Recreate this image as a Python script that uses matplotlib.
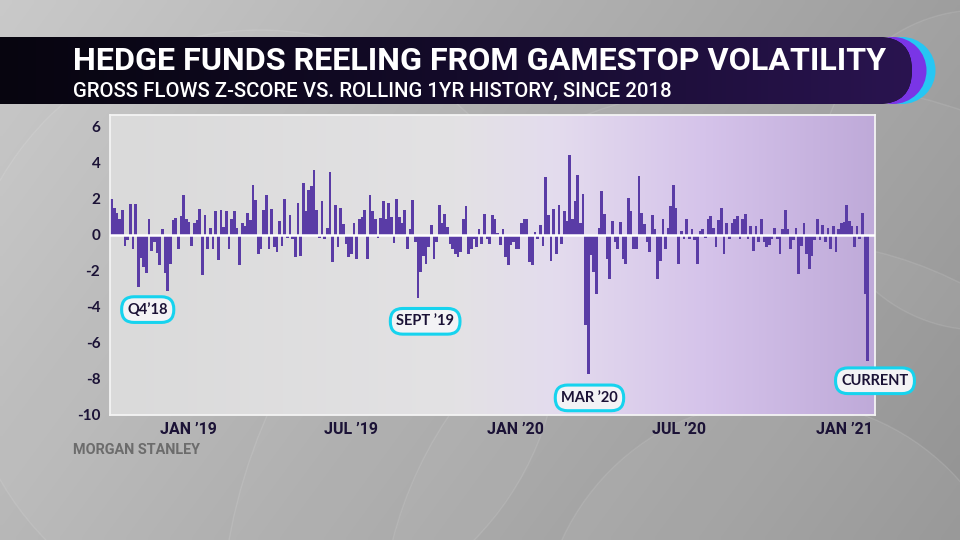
import numpy as np
import pandas as pd
import matplotlib
matplotlib.use("Agg")
import matplotlib.pyplot as plt
import matplotlib.dates as mdates
from matplotlib.patches import Circle, FancyBboxPatch
from matplotlib.colors import LinearSegmentedColormap
from matplotlib.ticker import FuncFormatter, FixedLocator

# ---------------- data ----------------
TITLE = "HEDGE FUNDS REELING FROM GAMESTOP VOLATILITY"
SUBTITLE = "GROSS FLOWS Z-SCORE VS. ROLLING 1YR HISTORY, SINCE 2018"
SOURCE = "MORGAN STANLEY"

START_DATE = "2018-10-08"
END_DATE = "2021-01-27"

z_oct18_dec18 = [2.0, 1.5, 1.2, 0.9, 1.4, -0.6, -0.3, 1.7, -0.8, 1.7, -2.9, -1.3, -1.8, -2.1,
                 0.9, -0.9, -0.4, -1.0, -1.7, 0.3, -2.1, -3.1, -1.6, 0.8, 0.95, -0.8, 1.05,
                 2.2, 0.9, 0.7, -0.6, 0.65, 0.8, 1.45, -2.25, 1.1, -0.8, 0.4, -0.8, 1.3, -1.4,
                 1.37, 0.45, 1.3, -0.8, 0.9, 1.3]
z_feb19_jul19 = [0.4, -1.7, 0.68, 0.5, 1.23, 0.8, 2.78, 1.96, -1.06, -0.8, 1.4, 2.23, -0.8,
                 1.45, -0.7, -0.97, 0.77, -0.6, 2.0, -0.2, 1.08, -0.24, -1.25, 1.78, -1.19,
                 2.88, 1.32, 2.5, 2.7, 3.57, 1.4, -0.2, 1.87, -0.24, 0.4, 3.5, -1.52, 1.68,
                 -0.7, 1.5, 0.6, -0.5, -1.25, -1.06, 0.68, -1.34, 0.86]
z_jul19_dec19 = [1.0, 1.4, -1.34, 2.23, 1.3, 0.86, -0.2, 0.95, 1.9, 0.86, 1.78, 1.0, -0.45,
                 2.0, 1.0, 0.68, 1.37, -0.79, 0.31, 1.96, -0.42, -3.53, -2.07, -1.15, -1.6,
                 -0.7, 0.53, -1.34, -0.42, 1.68, 0.68, 1.13, 0.45, -0.5, -0.8, -1.06, -1.25,
                 -0.97, 0.86, 1.6, -1.06, -0.79, -0.24, -0.7, 0.31, -0.5, 1.13]
z_dec19_may20 = [-0.24, -0.5, 1.1, 0.86, 0.1, -0.55, 0.3, -1.25, -1.7, -0.55, -0.42, -0.8,
                 -0.8, 0.68, 0.86, 0.9, -1.52, -1.7, 0.13, -0.24, 0.55, -0.6, 3.2, 1.1, -1.43,
                 1.46, -1.06, 1.68, -0.5, 1.32, 0.77, 4.43, 0.9, 1.87, 3.33, 0.68, 2.29, -5.0,
                 -7.75, -1.1, -2.07, -3.26, 0.4, 2.42, 1.13, -1.34, -2.44]
z_may20_sep20 = [0.77, -0.4, -0.79, 0.72, -1.34, -1.6, 2.05, 1.32, -0.79, -0.79, 3.28, 1.19,
                 0.6, -0.4, -0.97, 1.1, 0.35, -2.44, -1.43, 0.86, -0.8, 0.4, 1.6, 2.78, 1.5,
                 -1.6, 0.2, -0.24, 0.86, -0.24, 0.31, -0.3, -1.6, 0.22, 0.31, -0.2, 0.86, 1.04,
                 0.4, -0.7, 0.8, 1.5, -1.06, 0.68, -0.24, 0.68, 0.86]
z_oct20_jan21 = [1.04, -0.24, 0.9, 1.13, -0.24, 0.5, -0.88, 0.5, -0.42, 0.86, -0.42, -0.7,
                 -0.55, -0.24, 0.4, -0.24, -1.06, 0.31, 1.35, 0.35, -0.79, -0.3, 0.4, -2.16,
                 -0.6, 0.68, -1.06, -1.89, -1.15, -0.3, 0.86, -0.3, 0.53, -0.42, 0.4, -0.79,
                 0.5, -0.97, 0.31, 0.68, 0.7, 1.63, 0.77, 0.5, -0.7, 0.5, -0.24, 1.23, -3.3,
                 -7.0]

zscores = (z_oct18_dec18 + z_feb19_jul19 + z_jul19_dec19 + z_dec19_may20
           + z_may20_sep20 + z_oct20_jan21)
dates = pd.date_range(START_DATE, END_DATE, periods=len(zscores))

y_ticks = [6, 4, 2, 0, -2, -4, -6, -8, -10]

callout_labels = ["Q4\u201918", "SEPT \u201919", "MAR \u201920", "CURRENT"]
# label anchor positions (layout only)
callout_x = ["2018-11-17", "2019-09-22", "2020-03-23", "2021-02-04"]
callout_y = [-4.15, -4.8, -9.05, -8.1]

# ---------------- style ----------------
NAVY = "#1b1236"
BAR = "#5a3ca6"
CYAN = "#16d3ee"
SANS = ["Roboto", "DejaVu Sans"]
ROUND = ["Lato", "DejaVu Sans"]

fig = plt.figure(figsize=(9.6, 5.4), dpi=100)

# background layer in pixel coordinates
bg = fig.add_axes([0, 0, 1, 1])
bg.set_xlim(0, 960)
bg.set_ylim(540, 0)
bg.axis("off")
xx, yy = np.meshgrid(np.linspace(0, 1, 192), np.linspace(0, 1, 108))
gray = 0.79 - 0.17 * xx - 0.07 * yy
bg.imshow(np.dstack([gray, gray, gray]), extent=(0, 960, 540, 0), aspect="auto",
          interpolation="bilinear", zorder=0)
for (cx, cy, r, a) in [(780, 640, 240, 0.06), (780, 640, 400, 0.045), (780, 640, 560, 0.035),
                       (260, 330, 300, 0.045), (980, 170, 160, 0.045)]:
    bg.add_patch(Circle((cx, cy), r, facecolor="white", alpha=a, edgecolor="none", zorder=1))
    bg.add_patch(Circle((cx, cy), r, facecolor="none", edgecolor="white", alpha=0.10,
                        lw=1.0, zorder=1))

# title banner
bg.add_patch(Circle((902, 70.5), 33.5, facecolor="#27c6f3", edgecolor="none", zorder=2))
bg.add_patch(Circle((893, 70.5), 33.5, facecolor="#7a35e6", edgecolor="none", zorder=2.1))
banner = FancyBboxPatch((-60, 37), 972, 67, boxstyle="round,pad=0,rounding_size=33.5",
                        facecolor="#120a24", edgecolor="none", zorder=2.2)
bg.add_patch(banner)
bcmap = LinearSegmentedColormap.from_list("banner", ["#07050f", "#140b2a", "#2a1450"])
bim = bg.imshow(np.linspace(0, 1, 256)[None, :], cmap=bcmap, extent=(0, 915, 104, 37),
                aspect="auto", zorder=2.3)
bim.set_clip_path(banner)
bg.set_xlim(0, 960)
bg.set_ylim(540, 0)

t_title = bg.text(73, 70, TITLE, color="white", fontsize=22, fontweight="bold", family=SANS,
                  va="baseline", ha="left", zorder=3)
t_sub = bg.text(73, 96, SUBTITLE, color="white", fontsize=15, fontweight="medium", family=SANS,
                va="baseline", ha="left", zorder=3)
t_src = bg.text(73, 454, SOURCE, color="#6c6c6c", fontsize=10, fontweight="bold", family=SANS,
                va="baseline", ha="left", zorder=3)

# ---------------- main chart ----------------
ax = fig.add_axes([110 / 960, 1 - 415 / 540, 765 / 960, 300 / 540])
x0 = mdates.date2num(pd.Timestamp("2018-10-06"))
x1 = mdates.date2num(pd.Timestamp("2021-02-04"))
ax.set_xlim(x0, x1)
ax.set_ylim(-10, 6.65)

pcmap = LinearSegmentedColormap.from_list(
    "panel", [(0.0, "#dadada"), (0.45, "#e3e2e4"), (0.58, "#e4dcee"),
              (0.78, "#d5c3ea"), (1.0, "#bfaad9")])
ax.imshow(np.linspace(0, 1, 256)[None, :], cmap=pcmap, extent=(0, 1, 0, 1),
          transform=ax.transAxes, aspect="auto", zorder=0, interpolation="bilinear")

step = (dates[1] - dates[0]).total_seconds() / 86400.0
ax.bar(dates, zscores, width=step * 1.0, color=BAR, edgecolor="none", zorder=2)
ax.axhline(0, color="white", lw=1.8, zorder=3)

for s in ax.spines.values():
    s.set_color("#f4f4f4")
    s.set_linewidth(1.3)

ax.yaxis.set_major_locator(FixedLocator(y_ticks))
ax.set_yticklabels([str(t) for t in y_ticks])
ax.xaxis.set_major_locator(mdates.MonthLocator(bymonth=[1, 7]))
ax.xaxis.set_major_formatter(FuncFormatter(
    lambda v, p: mdates.num2date(v).strftime("%b").upper() + " \u2019" + mdates.num2date(v).strftime("%y")))
ax.tick_params(axis="both", length=0)
ax.tick_params(axis="y", pad=7, labelcolor=NAVY)
ax.tick_params(axis="x", pad=5, labelcolor=NAVY)
for lab in ax.get_yticklabels():
    lab.set_family(ROUND)
    lab.set_fontweight("bold")
    lab.set_fontsize(11)
for lab in ax.get_xticklabels():
    lab.set_family(SANS)
    lab.set_fontweight("bold")
    lab.set_fontsize(11.5)

for lab, cx, cy in zip(callout_labels, callout_x, callout_y):
    ax.text(mdates.date2num(pd.Timestamp(cx)), cy, lab, ha="center", va="center",
            fontsize=10.5, fontweight="bold", color=NAVY, family=ROUND,
            zorder=5, clip_on=False,
            bbox=dict(boxstyle="round,pad=0.4,rounding_size=0.85", facecolor="#f3f3f5",
                      edgecolor=CYAN, linewidth=2.2))

# fit header texts to the widths seen in the reference
fig.canvas.draw()
renderer = fig.canvas.get_renderer()
for t, target in [(t_title, 812), (t_sub, 601), (t_src, 127)]:
    w = t.get_window_extent(renderer).width
    t.set_fontsize(t.get_fontsize() * target / w)

fig.savefig("out.png", dpi=100)
